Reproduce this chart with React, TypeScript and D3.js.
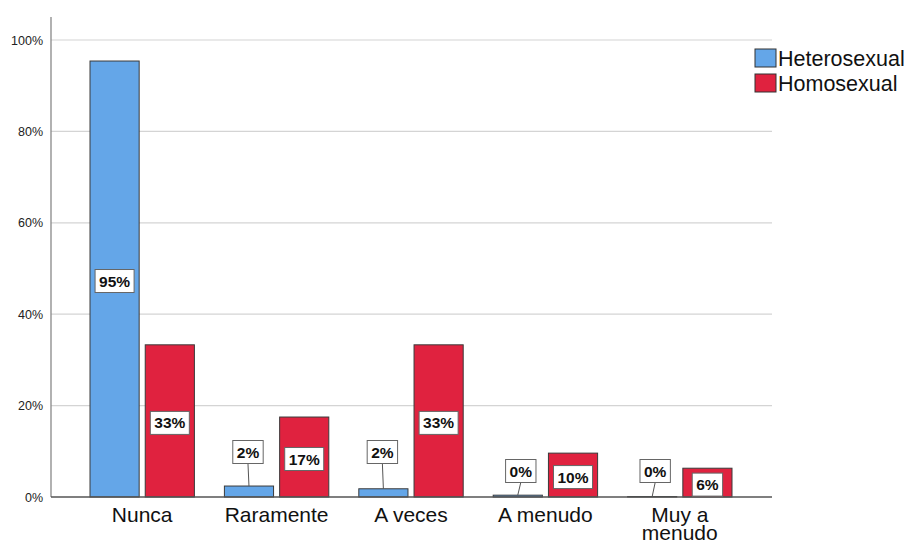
import React from "react";
import * as d3 from "d3";

const categories = ["Nunca", "Raramente", "A veces", "A menudo", "Muy a menudo"];
const series = ["Heterosexual", "Homosexual"];
const heteroValues = [95.4, 2.4, 1.8, 0.4, 0.1];
const homoValues = [33.3, 17.5, 33.3, 9.6, 6.3];
const heteroLabels = ["95%", "2%", "2%", "0%", "0%"];
const homoLabels = ["33%", "17%", "33%", "10%", "6%"];
const yTicks = [0, 20, 40, 60, 80, 100];

const colors = ["#64A6E8", "#E0223F"];
const W = 912, H = 541;
const plotLeft = 51, plotRight = 772, plotTop = 17, plotBottom = 497;

export default function App() {
  const y = d3.scaleLinear().domain([0, 100]).range([plotBottom, 40]);
  const x0 = d3.scaleBand().domain(categories).range([75, 747]).paddingInner(0).paddingOuter(0);
  const x1 = d3.scaleBand().domain(series).range([15, x0.bandwidth() - 15]).paddingInner(0.11);
  const allVals = [heteroValues, homoValues];
  const allLabels = [heteroLabels, homoLabels];
  const font = "Arial, 'Liberation Sans', sans-serif";
  const fs = 15.5;

  const labelBox = (cx: number, cy: number, text: string, key: string) => {
    const tw = text.split("").reduce((a, ch) => a + (ch === "%" ? 0.889 : 0.556), 0) * fs;
    const w = tw + 8;
    return (
      <g key={key}>
        <rect x={cx - w / 2} y={cy - 11.5} width={w} height={23} fill="#fff" stroke="#666" strokeWidth={1} />
        <text x={cx} y={cy + 5.5} textAnchor="middle" fontFamily={font} fontWeight="bold" fontSize={fs} fill="#111">{text}</text>
      </g>
    );
  };

  return (
    <svg width={W} height={H} style={{ position: "absolute", left: 0, top: 0 }}>
      <rect width={W} height={H} fill="#fff" />
      {yTicks.map((t) => (
        <g key={t}>
          {t > 0 && <line x1={plotLeft} x2={plotRight} y1={y(t)} y2={y(t)} stroke="#d4d4d4" strokeWidth={1.2} />}
          <text x={43} y={y(t) + 4.5} textAnchor="end" fontFamily={font} fontSize={12.5} fill="#222">{t}%</text>
        </g>
      ))}
      <line x1={plotLeft} x2={plotLeft} y1={plotTop} y2={plotBottom} stroke="#888" strokeWidth={1.3} />
      {categories.map((c, i) => (
        <g key={c}>
          {series.map((s, j) => {
            const v = allVals[j][i];
            const bx = (x0(c) as number) + (x1(s) as number);
            const bw = x1.bandwidth();
            const top = y(v);
            return (
              <rect key={s} x={bx} y={top} width={bw} height={plotBottom - top} fill={colors[j]} stroke="#3a3a3a" strokeWidth={1} />
            );
          })}
        </g>
      ))}
      <line x1={plotLeft} x2={plotRight} y1={plotBottom} y2={plotBottom} stroke="#555" strokeWidth={1.3} />
      {categories.map((c, i) => {
        const gx = (x0(c) as number) + x0.bandwidth() / 2;
        return (
          <g key={c + "lab"}>
            {series.map((s, j) => {
              const v = allVals[j][i];
              const bx = (x0(c) as number) + (x1(s) as number);
              const cx = bx + x1.bandwidth() / 2;
              const top = y(v);
              const text = allLabels[j][i];
              if (plotBottom - top > 26) {
                return labelBox(cx, (top + plotBottom) / 2 + 2, text, s);
              }
              const by = v > 1 ? 452 : 471;
              const bcx = cx + (v > 1 ? -1 : 3);
              return (
                <g key={s}>
                  <line x1={bcx} y1={by + 11.5} x2={cx} y2={top} stroke="#555" strokeWidth={1} />
                  {labelBox(bcx, by, text, s + "b")}
                </g>
              );
            })}
            {c === "Muy a menudo" ? (
              <text x={gx} y={522} textAnchor="middle" fontFamily={font} fontSize={21} fill="#111">
                <tspan x={gx}>Muy a</tspan>
                <tspan x={gx} dy={18}>menudo</tspan>
              </text>
            ) : (
              <text x={gx} y={522} textAnchor="middle" fontFamily={font} fontSize={21} fill="#111">{c}</text>
            )}
          </g>
        );
      })}
      {series.map((s, j) => (
        <g key={s} transform={`translate(755, ${49 + j * 25})`}>
          <rect x={0} y={0} width={21} height={18} fill={colors[j]} stroke="#333" strokeWidth={1} />
          <text x={23} y={16.5} fontFamily={font} fontSize={21.5} fill="#111">{s}</text>
        </g>
      ))}
    </svg>
  );
}
